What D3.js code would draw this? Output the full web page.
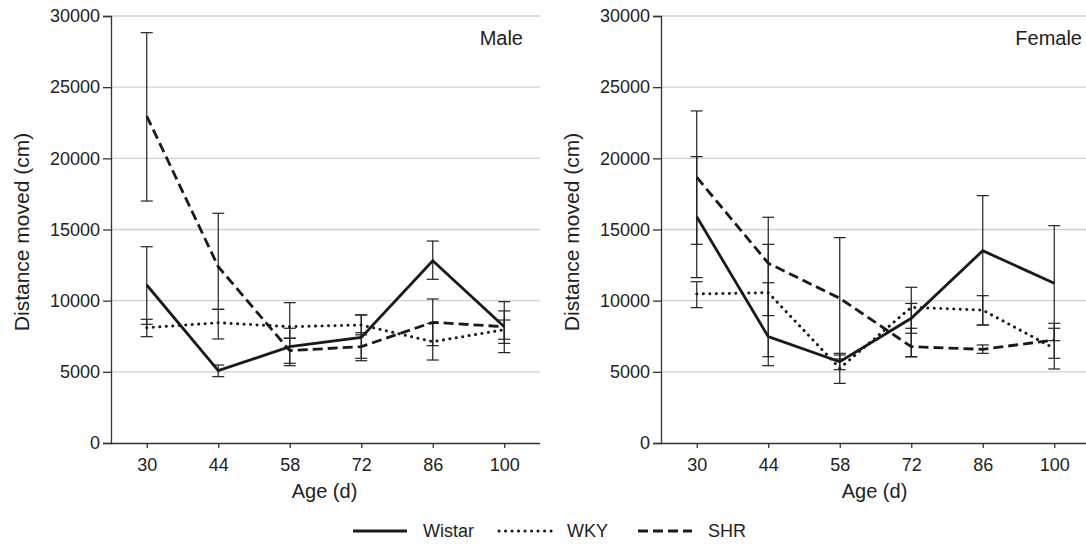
<!DOCTYPE html>
<html>
<head>
<meta charset="utf-8">
<script src="https://cdn.jsdelivr.net/npm/d3@7"></script>
<style>
  body { margin: 0; background: #fff; }
  svg text { font-family: "Liberation Sans", Arial, sans-serif; fill: #222; }
</style>
</head>
<body>
<div id="chart"></div>
<script>
// age categories and tick labels
var ages = ["30", "44", "58", "72", "86", "100"];
var yTicks = [0, 5000, 10000, 15000, 20000, 25000, 30000];
var strains = ["Wistar", "WKY", "SHR"];

// Male means + error bar ends
var maleWistar   = [11100, 5080, 6770, 7420, 12810, 8170];
var maleWistarLo = [8340, 4660, 5430, 5950, 11500, 6350];
var maleWistarHi = [13790, 5480, 8060, 8990, 14190, 9930];
var maleWKY      = [8100, 8450, 8170, 8290, 7120, 7960];
var maleWKYLo    = [7470, 7310, 7360, 7600, 5830, 7000];
var maleWKYHi    = [8690, 9390, 9860, 9000, 8400, 8640];
var maleSHR      = [22970, 12390, 6490, 6770, 8480, 8170];
var maleSHRLo    = [17000, 9390, 5600, 5780, 6840, 7290];
var maleSHRHi    = [28830, 16140, 7360, 7750, 10120, 9280];

// Female
var femaleWistar   = [15900, 7470, 5710, 8760, 13510, 11220];
var femaleWistarLo = [11620, 5430, 5150, 6060, 8290, 7190];
var femaleWistarHi = [20120, 11260, 6180, 10940, 17380, 15270];
var femaleWKY      = [10470, 10560, 5250, 9530, 9340, 6650];
var femaleWKYLo    = [9510, 6060, 4190, 7710, 8290, 5200];
var femaleWKYHi    = [11330, 13960, 6300, 9810, 10350, 8060];
var femaleSHR      = [18670, 12630, 10170, 6770, 6580, 7240];
var femaleSHRLo    = [13960, 8950, 5900, 6060, 6300, 5950];
var femaleSHRHi    = [23330, 15860, 14430, 8060, 6890, 8410];

var dashes = { Wistar: null, WKY: "0.1,6.4", SHR: "10,5" };

var svg = d3.select("#chart").append("svg")
    .attr("width", 1086)
    .attr("height", 545);

function panel(left, right, label, labelX, means, los, his) {
  var top = 16, bottom = 443;
  var x = d3.scalePoint().domain(ages).range([left, right]).padding(0.5);
  var y = d3.scaleLinear().domain([0, 30000]).range([bottom, top]);
  var g = svg.append("g");

  // gridlines
  g.selectAll(".grid").data(yTicks.slice(1)).enter().append("line")
      .attr("x1", left).attr("x2", right)
      .attr("y1", function(d) { return y(d); })
      .attr("y2", function(d) { return y(d); })
      .style("stroke", "#d0d0d0").style("stroke-width", 1.3);

  // y axis
  var ya = g.append("g")
      .attr("transform", "translate(" + left + ",0)")
      .call(d3.axisLeft(y).tickValues(yTicks).tickSize(8).tickPadding(3).tickFormat(d3.format("d")));
  ya.selectAll("text").style("font-size", "18px");

  // x axis
  var xa = g.append("g")
      .attr("transform", "translate(0," + bottom + ")")
      .call(d3.axisBottom(x).tickSize(5).tickPadding(10));
  xa.select(".domain").attr("d", "M" + left + ",0.5H" + right);
  xa.selectAll("text").style("font-size", "18px");

  g.selectAll(".domain, .tick line").style("stroke", "#333").style("stroke-width", 1.3);

  // titles
  g.append("text")
      .attr("transform", "translate(" + (left - 82) + ",232) rotate(-90)")
      .attr("text-anchor", "middle")
      .style("font-size", "21px")
      .text("Distance moved (cm)");
  g.append("text")
      .attr("x", (left + right) / 2 - 1).attr("y", 498)
      .attr("text-anchor", "middle")
      .style("font-size", "20px")
      .text("Age (d)");
  g.append("text")
      .attr("x", labelX).attr("y", 45)
      .attr("text-anchor", "end")
      .style("font-size", "20px")
      .text(label);

  // error bars
  strains.forEach(function(s, si) {
    var eb = g.selectAll(".eb" + si).data(ages).enter().append("g");
    eb.append("line")
        .attr("x1", function(d) { return x(d); }).attr("x2", function(d) { return x(d); })
        .attr("y1", function(d, i) { return y(los[si][i]); })
        .attr("y2", function(d, i) { return y(his[si][i]); });
    [los[si], his[si]].forEach(function(arr) {
      eb.append("line")
          .attr("x1", function(d) { return x(d) - 6; }).attr("x2", function(d) { return x(d) + 6; })
          .attr("y1", function(d, i) { return y(arr[i]); })
          .attr("y2", function(d, i) { return y(arr[i]); });
    });
    eb.selectAll("line").style("stroke", "#222").style("stroke-width", 1.2);
  });

  // mean lines
  var line = d3.line()
      .x(function(d) { return x(d[0]); })
      .y(function(d) { return y(d[1]); });
  strains.forEach(function(s, si) {
    g.append("path")
        .datum(d3.zip(ages, means[si]))
        .attr("d", line)
        .style("fill", "none")
        .style("stroke", "#1a1a1a")
        .style("stroke-width", s == "WKY" ? 3 : 2.8)
        .style("stroke-linecap", s == "WKY" ? "round" : "butt")
        .style("stroke-dasharray", dashes[s]);
  });
}

panel(111, 540, "Male", 523,
  [maleWistar, maleWKY, maleSHR],
  [maleWistarLo, maleWKYLo, maleSHRLo],
  [maleWistarHi, maleWKYHi, maleSHRHi]);

panel(661, 1090, "Female", 1082,
  [femaleWistar, femaleWKY, femaleSHR],
  [femaleWistarLo, femaleWKYLo, femaleSHRLo],
  [femaleWistarHi, femaleWKYHi, femaleSHRHi]);

// legend
var legX = [353, 499, 638];
var legend = svg.selectAll(".legend").data(strains).enter().append("g")
    .attr("transform", function(d, i) { return "translate(" + legX[i] + ",531)"; });
legend.append("line")
    .attr("x1", 0).attr("x2", function(d, i) { return i == 1 ? 56 : 54; })
    .style("stroke", "#1a1a1a")
    .style("stroke-width", function(d) { return d == "WKY" ? 3 : 2.8; })
    .style("stroke-linecap", function(d) { return d == "WKY" ? "round" : "butt"; })
    .style("stroke-dasharray", function(d) { return dashes[d]; });
legend.append("text")
    .attr("x", function(d, i) { return i == 1 ? 68 : 70; })
    .attr("dy", "0.35em")
    .style("font-size", "18px")
    .text(function(d) { return d; });
</script>
</body>
</html>
